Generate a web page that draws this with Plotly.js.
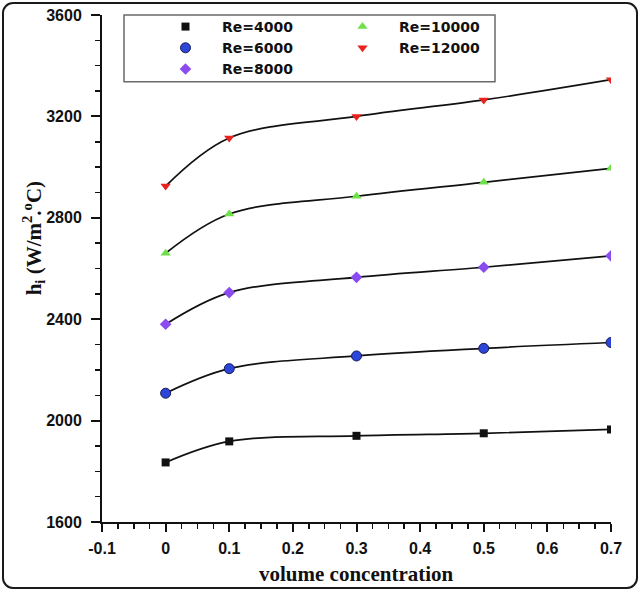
<!DOCTYPE html>
<html>
<head>
<meta charset="utf-8">
<script src="https://cdn.plot.ly/plotly-3.0.1.min.js"></script>
<style>
  html, body { margin: 0; padding: 0; background: #fff; }
  #wrap { position: relative; width: 640px; height: 591px; }
  #chart { width: 640px; height: 591px; }
  /* the rounded frame round the whole figure */
  #frame {
    position: absolute; left: 2px; top: 2px; width: 632px; height: 583px;
    border: 2px solid #1a1a1a; border-radius: 11px; pointer-events: none;
  }
</style>
</head>
<body>
<div id="wrap">
  <div id="chart"></div>
  <div id="frame"></div>
</div>
<script>
// volume concentration of the measured points
var conc = [0, 0.1, 0.3, 0.5, 0.7];

// h_i values, one array per Reynolds number
var re4000  = [1835, 1918, 1940, 1950, 1965];
var re6000  = [2108, 2205, 2255, 2285, 2308];
var re8000  = [2380, 2505, 2565, 2605, 2650];
var re10000 = [2660, 2815, 2885, 2940, 2995];
var re12000 = [2925, 3115, 3200, 3265, 3345];

var seriesNames = ['Re=4000', 'Re=6000', 'Re=8000', 'Re=10000', 'Re=12000'];

var xTickVals = [-0.1, 0, 0.1, 0.2, 0.3, 0.4, 0.5, 0.6, 0.7];
var xTickText = ['-0.1', '0', '0.1', '0.2', '0.3', '0.4', '0.5', '0.6', '0.7'];
var yTickVals = [1600, 2000, 2400, 2800, 3200, 3600];
var yTickText = ['1600', '2000', '2400', '2800', '3200', '3600'];

var allSeries = [re4000, re6000, re8000, re10000, re12000];

// marker look for each series
var markerStyles = [
    { symbol: 'square',        size: 8,  color: '#111111', line: { width: 0 } },
    { symbol: 'circle',        size: 10, color: '#2b46d8', line: { width: 1, color: '#151a55' } },
    { symbol: 'diamond',       size: 9,  color: '#8a4cf0', line: { width: 0 } },
    { symbol: 'triangle-up',   size: 9,  color: '#6fe04a', line: { width: 0 } },
    { symbol: 'triangle-down', size: 9,  color: '#e8221c', line: { width: 0 } }
];

var data = [];

// smooth black fitting curves first, so the markers sit on top
allSeries.forEach(function (ys) {
    data.push({
        x: conc, y: ys,
        mode: 'lines', type: 'scatter',
        line: { color: '#111111', width: 1.7, shape: 'spline', smoothing: 1 },
        showlegend: false, hoverinfo: 'skip'
    });
});

// the legend fills row by row, so push markers in an order
// that gives the two columns of the original
[0, 3, 1, 4, 2].forEach(function (i) {
    data.push({
        x: conc, y: allSeries[i],
        name: seriesNames[i],
        mode: 'markers', type: 'scatter',
        marker: markerStyles[i]
    });
});

// tick numbers: bold Arial-like, given on the layout so the axes pick it up
var baseFont = { family: 'Liberation Sans, Arial, sans-serif', size: 16, color: '#111111', weight: 'bold' };
var titleFont = { family: 'Liberation Serif, Times New Roman, serif', size: 21, color: '#111111', weight: 'bold' };

// plot area in pixels, used to place the legend frame
var plotL = 102, plotW = 509, plotT = 14, plotH = 508;
function px2x(p) { return (p - plotL) / plotW; }
function py2y(p) { return 1 - (p - plotT) / plotH; }

var layout = {
    width: 640,
    height: 591,
    margin: { l: 102, r: 29, t: 14, b: 69 },
    font: baseFont,
    paper_bgcolor: '#ffffff',
    plot_bgcolor: '#ffffff',
    showlegend: true,
    legend: {
        orientation: 'h',
        x: px2x(149), y: py2y(11), xanchor: 'left', yanchor: 'top',
        bgcolor: 'rgba(0,0,0,0)', borderwidth: 0,
        font: { family: 'DejaVu Sans, Verdana, sans-serif', size: 14, color: '#111111', weight: 'bold' },
        itemwidth: 63,
        entrywidth: 99, entrywidthmode: 'pixels',
        traceorder: 'normal'
    },
    shapes: [
        {
            // legend frame
            type: 'rect', xref: 'paper', yref: 'paper', layer: 'below',
            x0: px2x(124), x1: px2x(495), y0: py2y(81), y1: py2y(14),
            line: { color: '#6a6a6a', width: 1.5 }, fillcolor: '#ffffff'
        }
    ],
    xaxis: {
        range: [-0.1, 0.7],
        tickmode: 'array', tickvals: xTickVals, ticktext: xTickText,
        ticks: 'outside', ticklen: 8, tickwidth: 2, tickcolor: '#111111',
        minor: { dtick: 0.025, ticks: 'outside', ticklen: 5, tickwidth: 1.5, tickcolor: '#111111', showgrid: false },
        showline: true, linecolor: '#111111', linewidth: 2,
        showgrid: false, zeroline: false,
        tickfont: { family: baseFont.family, size: 16, color: '#111111', weight: 'bold' },
        ticklabelstandoff: 3,
        fixedrange: true
    },
    yaxis: {
        range: [1600, 3600],
        tickmode: 'array', tickvals: yTickVals, ticktext: yTickText,
        ticks: 'outside', ticklen: 9, tickwidth: 2, tickcolor: '#111111',
        minor: { dtick: 100, ticks: 'outside', ticklen: 5, tickwidth: 1.5, tickcolor: '#111111', showgrid: false },
        showline: true, linecolor: '#111111', linewidth: 2,
        showgrid: false, zeroline: false,
        tickfont: { family: baseFont.family, size: 16, color: '#111111', weight: 'bold' },
        ticklabelstandoff: 6,
        fixedrange: true
    },
    annotations: [
        {
            text: 'volume concentration',
            xref: 'paper', yref: 'paper', x: 0.5, y: -0.102,
            xanchor: 'center', yanchor: 'middle', showarrow: false,
            font: titleFont
        },
        {
            text: 'h<sub>i</sub> (W/m<sup>2</sup>.<sup>o</sup>C)',
            xref: 'paper', yref: 'paper', x: -0.135, y: 0.56,
            xanchor: 'center', yanchor: 'middle', showarrow: false,
            textangle: -90,
            font: titleFont
        }
    ]
};

Plotly.newPlot('chart', data, layout, { displayModeBar: false, staticPlot: true });
</script>
</body>
</html>
